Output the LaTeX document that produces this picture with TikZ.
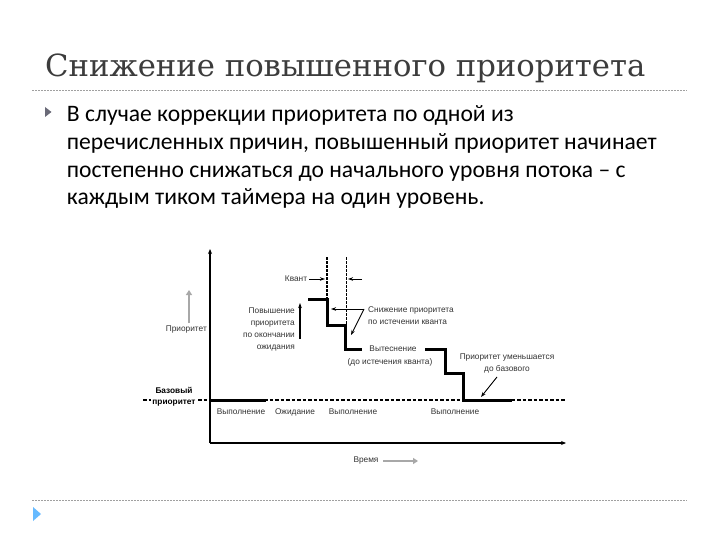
\documentclass[tikz,border=0pt]{standalone}
\usepackage{fontspec}
\usepackage{graphicx}
\usetikzlibrary{arrows.meta}
\newfontfamily\titlefont{DejaVu Serif}
\newfontfamily\bodyfont{Carlito}
\newfontfamily\dfont{Liberation Sans}
\definecolor{titlegray}{HTML}{3C3C3C}
\definecolor{rulegray}{HTML}{A0A0A0}
\definecolor{bulletgray}{HTML}{6A6A78}
\definecolor{arrowgray}{HTML}{A8A8A8}
\definecolor{dtext}{HTML}{333333}
\begin{document}
\begin{tikzpicture}[x=1pt,y=-1pt,
  rulestyle/.style={draw=rulegray, dash pattern=on 2pt off 1pt, line width=0.8pt},
  bodyline/.style={anchor=base west, inner sep=0pt, font=\bodyfont\fontsize{23.6}{28}\selectfont},
  dlabel/.style={font=\dfont\fontsize{8.3}{12}\selectfont, text=dtext, inner sep=0pt},
  boldlabel/.style={font=\dfont\bfseries\fontsize{8.3}{11}\selectfont, text=black, inner sep=1pt, align=center, fill=white},
  trace/.style={line width=3pt, line join=miter},
  axisline/.style={line width=1.6pt, -{Stealth[length=5pt,width=4pt]}},
  grayarrow/.style={draw=arrowgray, line width=2.2pt, -{Triangle[length=5pt,width=6pt]}},
  thinarrow/.style={line width=0.9pt, -{Stealth[length=5pt,width=3.5pt]}},
  basedash/.style={line width=1.6pt, dash pattern=on 3.5pt off 2pt}]
\useasboundingbox[fill=white] (0,0) rectangle (720,540);

% title and rules
\node[anchor=base west, inner sep=0pt, text=titlegray,
      font=\titlefont\fontsize{30.5}{34}\selectfont] (title) at (45,77)
      {\resizebox{600pt}{\height}{Снижение повышенного приоритета}};
\coordinate (r1a) at (32,90);
\coordinate (r1b) at (687,90);
\draw[rulestyle] (r1a) -- (r1b);
\coordinate (r2a) at (32,500);
\coordinate (r2b) at (687,500);
\draw[rulestyle] (r2a) -- (r2b);

% bullets
\fill[bulletgray] (45,107) -- (51.5,112) -- (45,117) -- cycle;
\fill[blue!45!cyan!60!white] (33,507) -- (41,514) -- (33,521) -- cycle;

% body text
\node[bodyline] (l1) at (66.7,121.7) {В случае коррекции приоритета по одной из};
\node[bodyline] (l2) at (66.7,150) {перечисленных причин, повышенный приоритет начинает};
\node[bodyline] (l3) at (66.7,178) {постепенно снижаться до начального уровня потока – с};
\node[bodyline] (l4) at (66.7,205) {каждым тиком таймера на один уровень.};

% axes
\coordinate (O) at (210,443);
\coordinate (Ytop) at (210,249);
\coordinate (Xend) at (566,443);
\draw[axisline] (O) -- (Ytop);
\draw[axisline] (O) -- (Xend);

\node[dlabel] (time) at (366,461) {Время};
\coordinate (ta) at (383,461);
\coordinate (tb) at (418,461);
\draw[grayarrow] (ta) -- (tb);

\node[dlabel, anchor=east] (prio) at (207,330) {Приоритет};
\coordinate (pa) at (189,323);
\coordinate (pb) at (189,290);
\draw[grayarrow] (pa) -- (pb);

% base level dashed line
\coordinate (ba) at (143,400);
\coordinate (bb) at (566,400);
\draw[basedash] (ba) -- (bb);
\node[boldlabel] (base) at (174,396.5) {Базовый\\приоритет};

% priority trace
\coordinate (t0) at (210,400);
\coordinate (t1) at (266,400);
\draw[trace] (t0) -- (t1);
\coordinate (s0) at (308,299);
\coordinate (s1) at (327,299);
\coordinate (s2) at (327,325);
\coordinate (s3) at (345,325);
\coordinate (s4) at (345,349);
\coordinate (s5) at (362,349);
\draw[trace] (s0) -- (s1) -- (s2) -- (s3) -- (s4) -- (s5);
\coordinate (u0) at (425,349);
\coordinate (u1) at (445,349);
\coordinate (u2) at (445,373);
\coordinate (u3) at (463,373);
\coordinate (u4) at (463,400);
\coordinate (u5) at (512,400);
\draw[trace] (u0) -- (u1) -- (u2) -- (u3) -- (u4) -- (u5);

% quantum markers
\coordinate (q1a) at (327,257);
\coordinate (q1b) at (327,299);
\draw[line width=1.6pt, dash pattern=on 2.5pt off 1.5pt] (q1a) -- (q1b);
\coordinate (q2a) at (346,257);
\coordinate (q2b) at (346,325);
\draw[line width=0.8pt, dash pattern=on 2.5pt off 1.5pt] (q2a) -- (q2b);

\node[dlabel] (kvant) at (296,279) {Квант};
\coordinate (k1) at (325,279);
\draw[thinarrow] (kvant.east) ++(2,0) -- (k1);
\coordinate (k2a) at (362,279);
\coordinate (k2b) at (348,279);
\draw[thinarrow] (k2a) -- (k2b);

% boost label
\node[dlabel, align=right, anchor=east] (boost) at (295,329)
  {Повышение\\приоритета\\по окончании\\ожидания};
\coordinate (ba1) at (300,339);
\coordinate (ba2) at (300,303);
\draw[thinarrow, line width=1.2pt] (ba1) -- (ba2);

% decay label
\node[dlabel, align=left, anchor=west] (decay) at (368,315.5)
  {Снижение приоритета\\по истечении кванта};
\coordinate (da) at (364,309);
\coordinate (db) at (331,309);
\draw[thinarrow] (da) -- (db);
\coordinate (dc) at (351,335);
\draw[thinarrow] (da) -- (dc);

% preemption label
\node[dlabel] (preempt) at (393,349) {Вытеснение};
\node[dlabel] (preempt2) at (390,362) {(до истечения кванта)};

% decrease label
\node[dlabel, align=center] (decr) at (507,363)
  {Приоритет уменьшается\\до базового};
\coordinate (ea) at (497,377);
\coordinate (eb) at (481,397);
\draw[thinarrow] (ea) -- (eb);

% state labels
\node[dlabel] (st1) at (241,412) {Выполнение};
\node[dlabel] (st2) at (295,412) {Ожидание};
\node[dlabel] (st3) at (353,412) {Выполнение};
\node[dlabel] (st4) at (455,412) {Выполнение};
\end{tikzpicture}
\end{document}
